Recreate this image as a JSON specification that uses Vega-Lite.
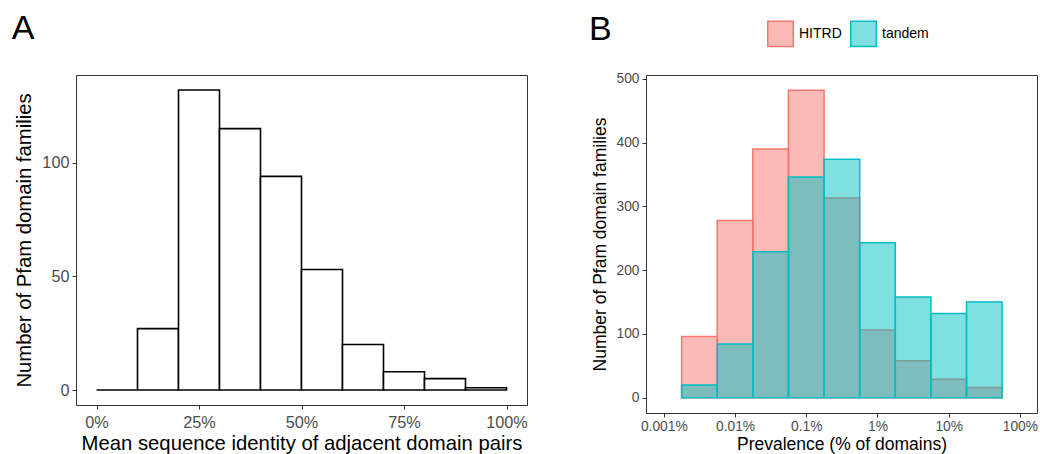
{
  "$schema": "https://vega.github.io/schema/vega-lite/v6.json",
  "background": "white",
  "padding": {"left": 11, "top": 11, "right": 1, "bottom": 0},
  "config": {
    "font": "Liberation Sans",
    "view": {"stroke": "#333333", "strokeWidth": 1},
    "axis": {
      "domain": false, "grid": false, "tickColor": "#333333", "tickSize": 4,
      "labelColor": "#4d4d4d", "titleColor": "black", "titleFontWeight": "normal"
    },
    "title": {"fontSize": 34, "fontWeight": "normal", "anchor": "start", "frame": "bounds", "color": "black", "dx": -3}
  },
  "resolve": {"legend": {"fill": "independent", "stroke": "independent"}, "scale": {"fill": "independent", "stroke": "independent"}},
  "datasets": {
    "a": [
      {"lo": 0, "hi": 10, "n": 0},
      {"lo": 10, "hi": 20, "n": 27},
      {"lo": 20, "hi": 30, "n": 132},
      {"lo": 30, "hi": 40, "n": 115},
      {"lo": 40, "hi": 50, "n": 94},
      {"lo": 50, "hi": 60, "n": 53},
      {"lo": 60, "hi": 70, "n": 20},
      {"lo": 70, "hi": 80, "n": 8},
      {"lo": 80, "hi": 90, "n": 5},
      {"lo": 90, "hi": 100, "n": 1}
    ],
    "b": [
      {"group": "HITRD", "lo": 0.001778, "hi": 0.005623, "n": 96},
      {"group": "HITRD", "lo": 0.005623, "hi": 0.017783, "n": 278},
      {"group": "HITRD", "lo": 0.017783, "hi": 0.056234, "n": 390},
      {"group": "HITRD", "lo": 0.056234, "hi": 0.177828, "n": 482},
      {"group": "HITRD", "lo": 0.177828, "hi": 0.562341, "n": 313},
      {"group": "HITRD", "lo": 0.562341, "hi": 1.778279, "n": 106},
      {"group": "HITRD", "lo": 1.778279, "hi": 5.623413, "n": 58},
      {"group": "HITRD", "lo": 5.623413, "hi": 17.78279, "n": 29},
      {"group": "HITRD", "lo": 17.78279, "hi": 56.23413, "n": 16},
      {"group": "tandem", "lo": 0.001778, "hi": 0.005623, "n": 20},
      {"group": "tandem", "lo": 0.005623, "hi": 0.017783, "n": 84},
      {"group": "tandem", "lo": 0.017783, "hi": 0.056234, "n": 229},
      {"group": "tandem", "lo": 0.056234, "hi": 0.177828, "n": 346},
      {"group": "tandem", "lo": 0.177828, "hi": 0.562341, "n": 374},
      {"group": "tandem", "lo": 0.562341, "hi": 1.778279, "n": 243},
      {"group": "tandem", "lo": 1.778279, "hi": 5.623413, "n": 158},
      {"group": "tandem", "lo": 5.623413, "hi": 17.78279, "n": 132},
      {"group": "tandem", "lo": 17.78279, "hi": 56.23413, "n": 150}
    ]
  },
  "hconcat": [
    {
      "title": {"text": "A", "offset": 29},
      "width": 451,
      "height": 330,
      "data": {"name": "a"},
      "mark": {"type": "rect", "fill": "white", "stroke": "black", "strokeWidth": 1.6},
      "encoding": {
        "x": {"field": "lo", "type": "quantitative", "scale": {"domain": [-5, 105], "nice": false, "zero": false},
          "axis": {"values": [0, 25, 50, 75, 100], "labelExpr": "datum.value + '%'", "labelFontSize": 16.3, "titleFontSize": 20.3, "title": "Mean sequence identity of adjacent domain pairs", "titlePadding": 3, "labelPadding": 5}},
        "x2": {"field": "hi"},
        "y": {"field": "n", "type": "quantitative", "scale": {"domain": [-6.6, 138.6], "nice": false, "zero": false},
          "axis": {"values": [0, 50, 100], "labelFontSize": 16.3, "titleFontSize": 20.3, "title": "Number of Pfam domain families", "titlePadding": 7, "labelPadding": 3}},
        "y2": {"datum": 0}
      }
    },
    {
      "title": {"text": "B", "offset": -27},
      "width": 391,
      "height": 338,
      "data": {"name": "b"},
      "mark": {"type": "rect", "fillOpacity": 0.5, "strokeWidth": 1.5},
      "encoding": {
        "x": {"field": "lo", "type": "quantitative", "scale": {"type": "log", "domain": [0.000562, 173.8], "nice": false},
          "axis": {"values": [0.001, 0.01, 0.1, 1, 10, 100], "labelExpr": "datum.value + '%'", "labelFontSize": 13.8, "titleFontSize": 17.5, "title": "Prevalence (% of domains)", "titlePadding": 3, "labelPadding": 2}},
        "x2": {"field": "hi"},
        "y": {"field": "n", "type": "quantitative", "stack": null, "scale": {"domain": [-24.1, 506.1], "nice": false, "zero": false},
          "axis": {"values": [0, 100, 200, 300, 400, 500], "labelFontSize": 13.8, "titleFontSize": 17.5, "title": "Number of Pfam domain families", "titlePadding": 6, "labelPadding": 3}},
        "y2": {"datum": 0},
        "fill": {"field": "group", "type": "nominal", "scale": {"domain": ["HITRD", "tandem"], "range": ["#F8766D", "#00BFC4"]},
          "legend": {"title": null, "orient": "none", "direction": "horizontal", "legendX": 121, "legendY": -55, "symbolType": "square", "symbolSize": 650, "labelFontSize": 14, "labelColor": "black", "labelOffset": 5, "columnPadding": 5, "symbolStrokeWidth": 1.5,
            "encode": {"symbols": {"update": {"fillOpacity": {"value": 0.5}}}}}},
        "stroke": {"field": "group", "type": "nominal", "scale": {"domain": ["HITRD", "tandem"], "range": ["#F8766D", "#00BFC4"]}, "legend": null}
      }
    }
  ],
  "spacing": 60
}
